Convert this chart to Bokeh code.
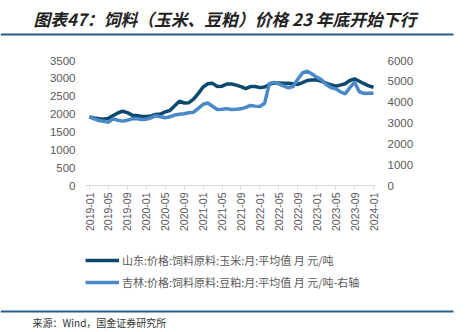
import math
from bokeh.plotting import figure
from bokeh.models import (Range1d, LinearAxis, FixedTicker, Legend, LegendItem,
                          Label, BoxAnnotation, ColumnDataSource)
from bokeh.embed import file_html
from bokeh.resources import INLINE

# ---------------- data ----------------
months = [f"{y}-{m:02d}" for y in range(2019, 2024) for m in range(1, 13)] + ["2024-01"]

corn = [1920, 1890, 1870, 1860, 1880, 1960, 2030, 2080, 2040, 1970,
        1960, 1935, 1930, 1950, 1990, 2000, 2060, 2100, 2230, 2360,
        2310, 2320, 2420, 2580, 2760, 2850, 2860, 2770, 2780, 2840,
        2840, 2810, 2770, 2710, 2770, 2770, 2740, 2760, 2830, 2865,
        2870, 2865, 2860, 2850, 2830, 2880, 2940, 2955, 2960, 2920,
        2865, 2820, 2780, 2810, 2850, 2940, 2985, 2920, 2850, 2790,
        2750]

soymeal = [3300, 3200, 3120, 3080, 3040, 3200, 3130, 3090, 3130, 3200,
           3220, 3170, 3180, 3250, 3350, 3300, 3250, 3300, 3380, 3420,
           3440, 3490, 3520, 3700, 3900, 3960, 3800, 3650, 3660, 3690,
           3650, 3660, 3680, 3750, 3840, 3810, 3790, 3950, 4900, 4950,
           4880, 4780, 4690, 4750, 5100, 5400, 5490, 5350, 5200, 5080,
           4850, 4700, 4640, 4500, 4400, 4700, 4960, 4500, 4420, 4430,
           4430]

tick_labels = months[::4]
left_ticks = [0, 500, 1000, 1500, 2000, 2500, 3000, 3500]
right_ticks = [0, 1000, 2000, 3000, 4000, 5000, 6000]

title_text = "图表47：饲料（玉米、豆粕）价格 23 年底开始下行"
source_text = "来源：Wind，国金证券研究所"
name_corn = "山东:价格:饲料原料:玉米:月:平均值 月 元/吨"
name_soy = "吉林:价格:饲料原料:豆粕:月:平均值 月 元/吨-右轴"

# ---------------- layout (pixels of the 466x332 canvas) ----------------
W, H = 466, 332
PX0, PX1 = 89, 373          # x of first / last month
PY_TOP, PY_ZERO = 60, 185   # y of axis maximum / zero
GRAY = "#595959"
DARK = "#0b4a6e"
LIGHT = "#4a88c7"
RULE = "#255e8e"

n = len(months)
x = list(range(n))
xs = (n - 1) / (PX1 - PX0)                # months per pixel
ls = left_ticks[-1] / (PY_ZERO - PY_TOP)   # left units per pixel
rs = right_ticks[-1] / (PY_ZERO - PY_TOP)  # right units per pixel

src = ColumnDataSource(dict(x=x, corn=corn, soy=soymeal))

# the frame fills the whole canvas; axes are pinned with fixed_location
p = figure(width=W, height=H, output_backend="svg", toolbar_location=None,
           title_location=None,
           x_range=Range1d(-PX0 * xs, (W - PX0) * xs),
           y_range=Range1d(-(H - PY_ZERO) * ls, PY_ZERO * ls),
           min_border=0, outline_line_color=None)
p.extra_y_ranges = {"right": Range1d(-(H - PY_ZERO) * rs, PY_ZERO * rs)}
p.grid.visible = False
p.background_fill_color = "white"
p.border_fill_color = "white"

r1 = p.line("x", "corn", source=src, line_color=DARK, line_width=3.5)
r2 = p.line("x", "soy", source=src, line_color=LIGHT, line_width=3.5,
            y_range_name="right")

xa = p.xaxis[0]
xa.fixed_location = 0
xa.bounds = (-(PX0 - 85) * xs, (n - 1) + 2 * xs)
xa.ticker = FixedTicker(ticks=x[::4])
xa.major_label_overrides = {i: lab for i, lab in zip(x[::4], tick_labels)}
xa.major_label_orientation = math.pi / 2
xa.axis_line_color = "#d9d9d9"
xa.major_tick_line_color = "#d9d9d9"
xa.major_tick_in = 0
xa.major_tick_out = 4
xa.minor_tick_line_color = None
xa.major_label_text_font = "Liberation Sans"
xa.major_label_text_font_size = "10.5px"
xa.major_label_text_color = GRAY
xa.major_label_standoff = 3

ya = p.yaxis[0]
ya.fixed_location = -(PX0 - 87) * xs
ya.ticker = FixedTicker(ticks=left_ticks)
ya.axis_line_color = None
ya.major_tick_line_color = None
ya.minor_tick_line_color = None
ya.major_tick_out = 0
ya.major_label_standoff = 12
ya.major_label_text_font = "Liberation Sans"
ya.major_label_text_font_size = "11.5px"
ya.major_label_text_color = GRAY

ra = LinearAxis(y_range_name="right", ticker=FixedTicker(ticks=right_ticks),
                fixed_location=(376 - PX0) * xs)
ra.axis_line_color = None
ra.major_tick_line_color = None
ra.minor_tick_line_color = None
ra.major_tick_out = 0
ra.major_label_standoff = 11
ra.major_label_text_font = "Liberation Sans"
ra.major_label_text_font_size = "11.5px"
ra.major_label_text_color = GRAY
p.add_layout(ra, "right")

# legend (screen units measured from the frame's bottom-left = canvas bottom-left)
legend = Legend(items=[LegendItem(label=name_corn, renderers=[r1]),
                       LegendItem(label=name_soy, renderers=[r2])],
                location=(85, H - 290), orientation="vertical",
                padding=0, margin=0, spacing=6, glyph_width=34, glyph_height=16,
                label_height=16, label_standoff=3,
                label_text_font="Noto Sans CJK SC", label_text_font_size="11px",
                label_text_color=GRAY, border_line_color=None,
                background_fill_alpha=0)
p.add_layout(legend, "center")

# title, source and the two rules
p.add_layout(Label(x=33, y=H - 18, x_units="screen", y_units="screen",
                   text=title_text, text_font="Noto Sans CJK SC",
                   text_font_size="16.8px", text_font_style="bold italic",
                   text_color="#222222", text_baseline="middle"))
p.add_layout(Label(x=32, y=H - 322, x_units="screen", y_units="screen",
                   text=source_text, text_font="Noto Sans CJK SC",
                   text_font_size="10px", text_color="#333333",
                   text_baseline="middle"))
for cy in (34, 311):
    p.add_layout(BoxAnnotation(left=0, right=453, top=H - cy + 1, bottom=H - cy - 1,
                               left_units="screen", right_units="screen",
                               top_units="screen", bottom_units="screen",
                               fill_color=RULE, fill_alpha=1, line_color=None))

open("out.html", "w").write(file_html(p, INLINE))
